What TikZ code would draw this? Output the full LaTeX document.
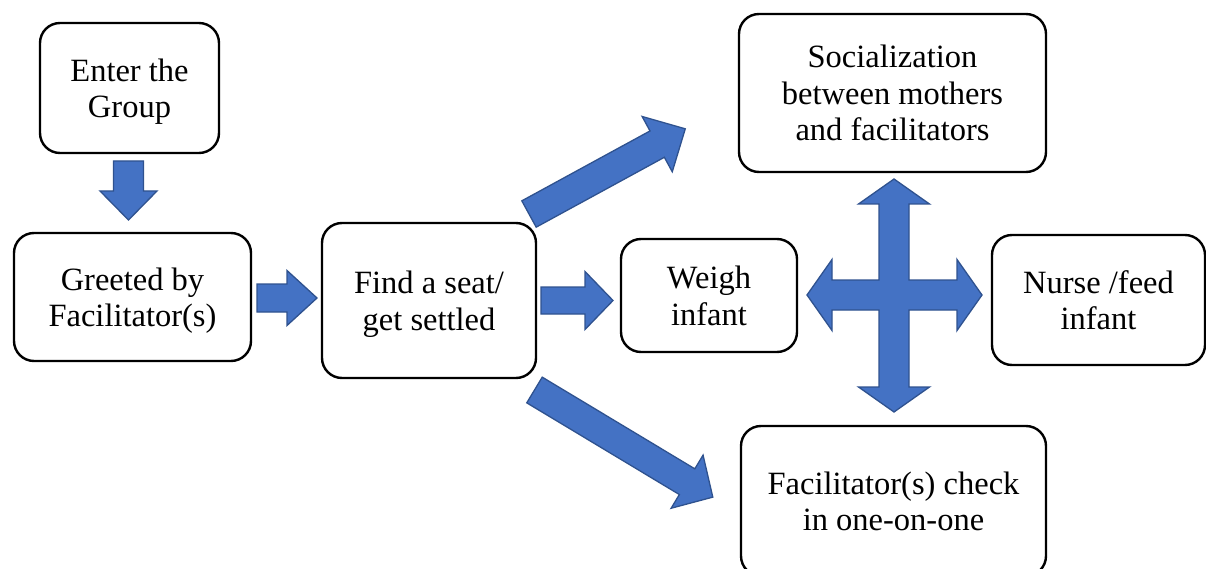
\documentclass[tikz,border=0pt]{standalone}
\usepackage{fontspec}
\setmainfont{Liberation Serif}
\newfontfamily\boxfont{Liberation Serif}
\definecolor{arrfill}{HTML}{4472C4}
\definecolor{arrline}{HTML}{2F528F}
\begin{document}
\begin{tikzpicture}[x=1pt,y=-1pt,
  box/.style={draw=black, line width=2.4pt, rounded corners=20pt, inner sep=0pt,
    align=center, font=\boxfont\fontsize{32.5}{36.5}\selectfont, text depth=0pt},
  blockarrow/.style={fill=arrfill, draw=arrline, line width=1.3pt, line join=miter}]
\useasboundingbox (0,0) rectangle (1206,569);
% boxes
\node[box, minimum width=179pt, minimum height=130pt] (enter) at (129.5,88) {Enter the\\Group};
\node[box, minimum width=237pt, minimum height=128pt] (greet) at (132.5,297) {Greeted by\\Facilitator(s)};
\node[box, minimum width=214pt, minimum height=155pt] (seat) at (429,300.5) {Find a seat/\\get settled};
\node[box, minimum width=176pt, minimum height=113pt] (weigh) at (709,295.5) {Weigh\\infant};
\node[box, minimum width=307pt, minimum height=158pt] (social) at (892.5,93) {Socialization\\between mothers\\and facilitators};
\node[box, minimum width=213pt, minimum height=130pt] (nurse) at (1098.5,300) {Nurse /feed\\infant};
\node[box, minimum width=305pt, minimum height=150pt] (check) at (893.5,501) {Facilitator(s) check\\in one-on-one};
% block arrows: tail midpoint, angle, length L, shaft half s, head half H, head length h
\newcommand{\blockarr}[7]{%
  \draw[blockarrow, shift={(#1,#2)}, rotate=#3]
    (0,-#5) -- ({#4-#7},-#5) -- ({#4-#7},-#6) -- (#4,0) -- ({#4-#7},#6) -- ({#4-#7},#5) -- (0,#5) -- cycle;}
\blockarr{128.5}{161}{-90}{59}{15}{28.5}{29}
\blockarr{257}{298}{0}{60}{14}{27.5}{30}
\blockarr{541}{300.5}{0}{72}{13.5}{29}{28}
\blockarr{529}{214}{28.6}{178}{15}{31.5}{32}
\blockarr{534.5}{390}{-31}{208}{15}{31}{30}
% quad arrow
\draw[blockarrow] (894,179) -- (929.5,204) -- (909,204) -- (909,280) -- (957,280) -- (957,259.5)
  -- (982,295) -- (957,330.5) -- (957,310) -- (909,310) -- (909,387) -- (929.5,387)
  -- (894,412) -- (858.5,387) -- (879,387) -- (879,310) -- (832,310) -- (832,330.5)
  -- (807,295) -- (832,259.5) -- (832,280) -- (879,280) -- (879,204) -- (858.5,204) -- cycle;
\end{tikzpicture}
\end{document}
